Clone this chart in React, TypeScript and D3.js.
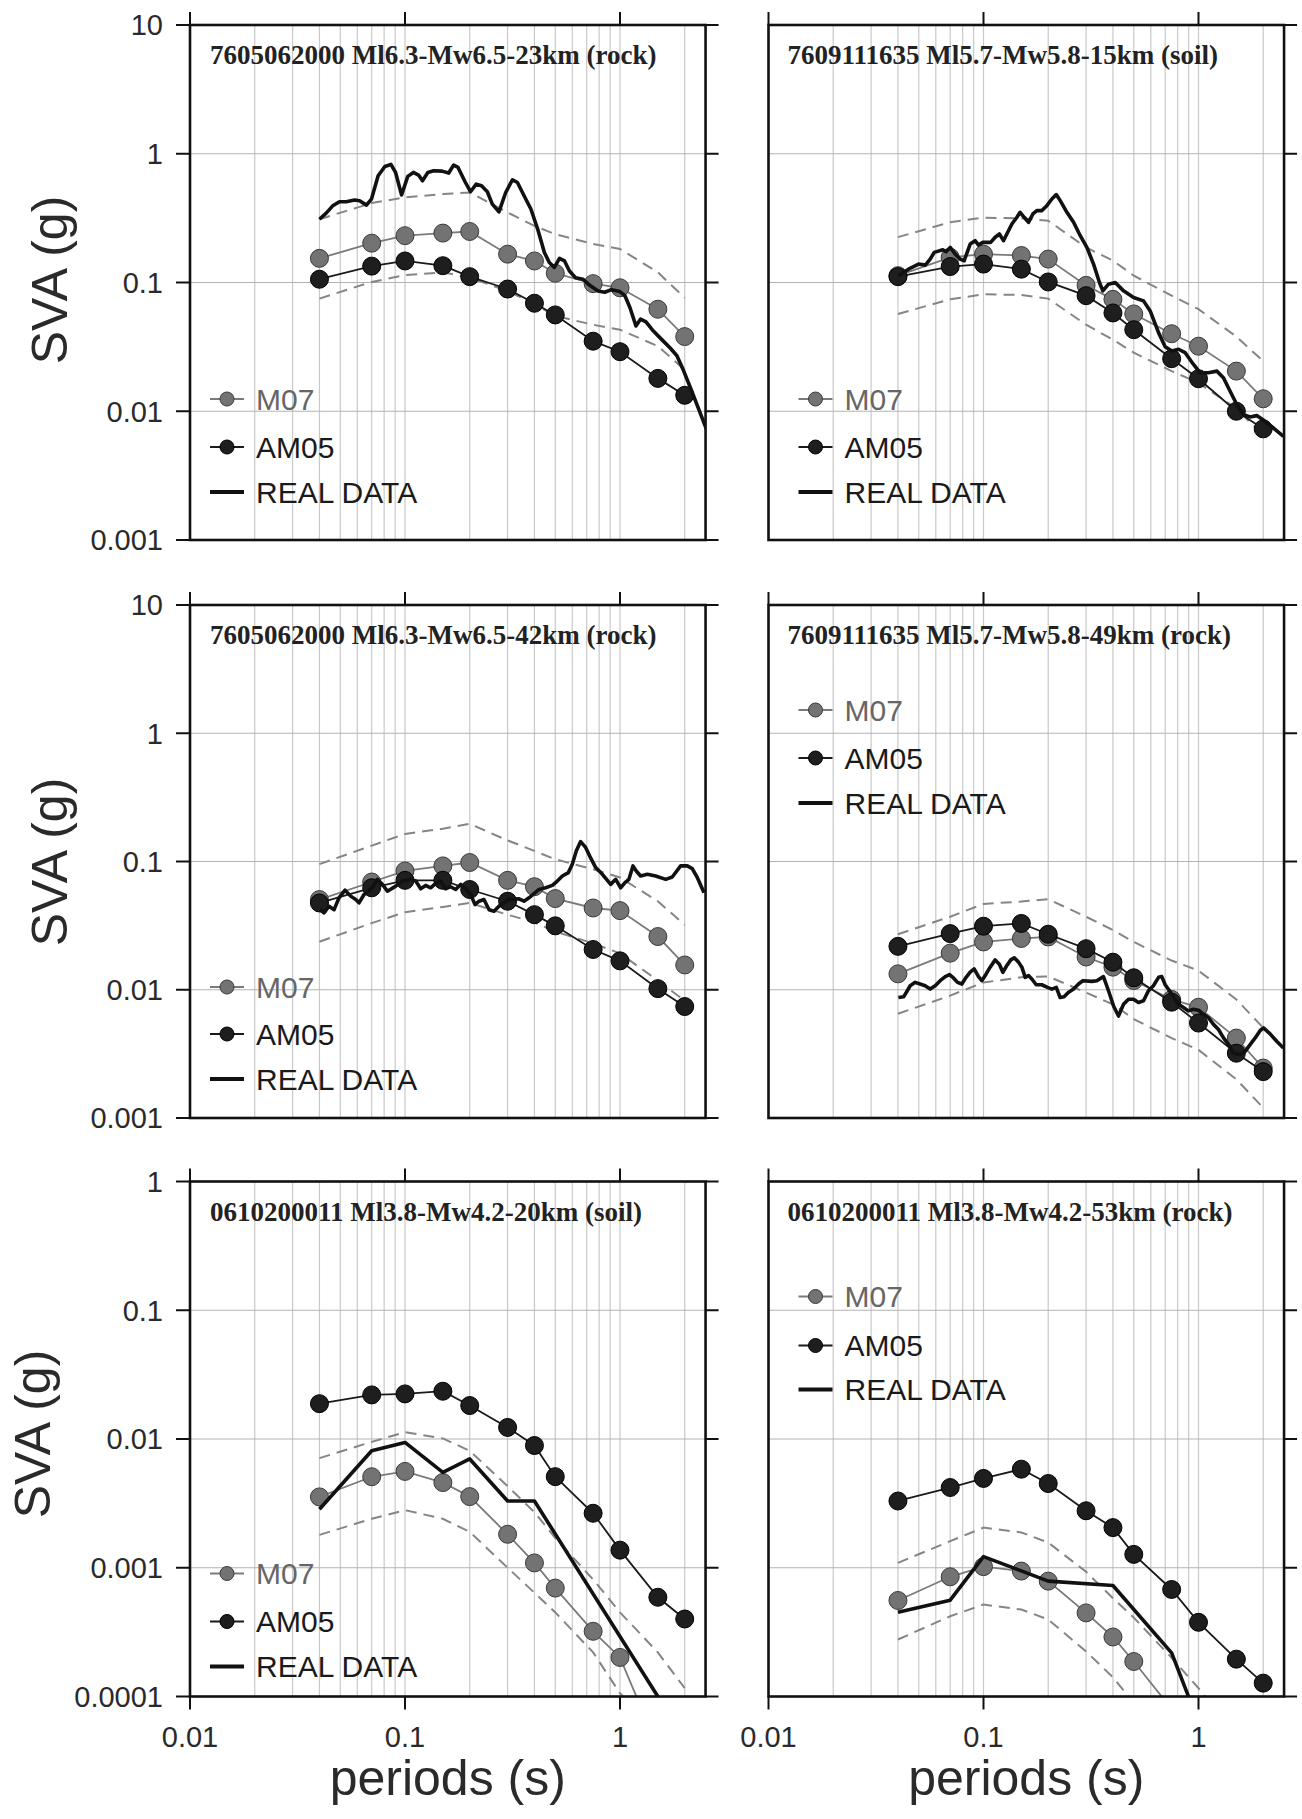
import React from 'react';
import * as d3 from 'd3';

// ---------------- DATA ----------------
const PERIODS = [0.04, 0.07, 0.1, 0.15, 0.2, 0.3, 0.4, 0.5, 0.75, 1, 1.5, 2];

const TITLES = [
  '7605062000 Ml6.3-Mw6.5-23km (rock)',
  '7609111635 Ml5.7-Mw5.8-15km (soil)',
  '7605062000 Ml6.3-Mw6.5-42km (rock)',
  '7609111635 Ml5.7-Mw5.8-49km (rock)',
  '0610200011 Ml3.8-Mw4.2-20km (soil)',
  '0610200011 Ml3.8-Mw4.2-53km (rock)',
];

const Y_TICKS_A = [10, 1, 0.1, 0.01, 0.001];
const Y_TICKS_B = [1, 0.1, 0.01, 0.001, 0.0001];
const Y_LABELS_A = ['10', '1', '0.1', '0.01', '0.001'];
const Y_LABELS_B = ['1', '0.1', '0.01', '0.001', '0.0001'];
const X_TICKS = [0.01, 0.1, 1];
const X_LABELS = ['0.01', '0.1', '1'];
const LEGEND_LABELS = ['M07', 'AM05', 'REAL DATA'];

// Panel 1
const M07_1 = [0.154, 0.202, 0.231, 0.242, 0.249, 0.166, 0.147, 0.118, 0.098, 0.091, 0.062, 0.038];
const AM05_1 = [0.106, 0.134, 0.147, 0.135, 0.111, 0.089, 0.069, 0.056, 0.035, 0.029, 0.018, 0.0133];
const UP_1 = [0.31, 0.414, 0.458, 0.486, 0.501, 0.35, 0.275, 0.237, 0.199, 0.182, 0.12, 0.076];
const LO_1 = [0.075, 0.101, 0.114, 0.12, 0.109, 0.086, 0.068, 0.055, 0.047, 0.043, 0.032, 0.021];
const REAL_1: [number, number][] = [
  [0.04, 0.31], [0.043, 0.346], [0.0461, 0.394], [0.0496, 0.424], [0.0533, 0.424], [0.0583, 0.437],
  [0.0615, 0.431], [0.0662, 0.399], [0.0698, 0.444], [0.075, 0.675], [0.0806, 0.797], [0.086, 0.826],
  [0.0904, 0.716], [0.0964, 0.478], [0.103, 0.667], [0.1094, 0.716], [0.1156, 0.683], [0.1206, 0.617],
  [0.1277, 0.716], [0.1358, 0.738], [0.1486, 0.733], [0.1597, 0.708], [0.1684, 0.817], [0.1765, 0.783],
  [0.191, 0.598], [0.2017, 0.507], [0.2144, 0.581], [0.227, 0.564], [0.2415, 0.507], [0.2547, 0.406],
  [0.2735, 0.354], [0.294, 0.5], [0.316, 0.628], [0.3334, 0.598], [0.358, 0.472], [0.385, 0.372],
  [0.414, 0.26], [0.445, 0.171], [0.469, 0.143], [0.495, 0.131], [0.523, 0.154], [0.552, 0.147],
  [0.582, 0.123], [0.621, 0.109], [0.673, 0.106], [0.723, 0.095], [0.791, 0.086], [0.849, 0.084],
  [0.912, 0.088], [0.998, 0.085], [1.054, 0.079], [1.112, 0.064], [1.186, 0.046], [1.247, 0.052],
  [1.321, 0.0495], [1.43, 0.042], [1.565, 0.036], [1.712, 0.031], [1.84, 0.027], [1.977, 0.0206],
  [2.124, 0.0153], [2.323, 0.0104], [2.52, 0.0073],
];

// Panel 2
const M07_2 = [0.113, 0.157, 0.166, 0.162, 0.152, 0.095, 0.074, 0.057, 0.04, 0.032, 0.0205, 0.0125];
const AM05_2 = [0.111, 0.133, 0.139, 0.127, 0.101, 0.079, 0.058, 0.043, 0.0256, 0.0179, 0.01, 0.0073];
const UP_2 = [0.225, 0.294, 0.319, 0.315, 0.302, 0.187, 0.148, 0.113, 0.079, 0.062, 0.038, 0.0245];
const LO_2 = [0.057, 0.074, 0.081, 0.08, 0.075, 0.047, 0.036, 0.0285, 0.0205, 0.0166, 0.0105, 0.0065];
const REAL_2: [number, number][] = [
  [0.0402, 0.1127], [0.0448, 0.127], [0.0499, 0.139], [0.0536, 0.1365], [0.0565, 0.152], [0.059, 0.1714],
  [0.0647, 0.1797], [0.067, 0.1734], [0.07, 0.1874], [0.0738, 0.1664], [0.0779, 0.152], [0.0813, 0.1476],
  [0.0867, 0.199], [0.0914, 0.2113], [0.0948, 0.1954], [0.0993, 0.205], [0.108, 0.205], [0.1133, 0.2245],
  [0.1186, 0.238], [0.1239, 0.2113], [0.1284, 0.238], [0.1355, 0.2847], [0.143, 0.321], [0.148, 0.351],
  [0.1546, 0.321], [0.162, 0.2935], [0.1697, 0.3405], [0.177, 0.3614], [0.1866, 0.3614], [0.197, 0.395],
  [0.208, 0.4453], [0.218, 0.482], [0.2275, 0.4325], [0.2443, 0.351], [0.2624, 0.2935], [0.2818, 0.231],
  [0.3026, 0.1874], [0.325, 0.139], [0.3463, 0.1], [0.359, 0.0861], [0.3814, 0.097], [0.41, 0.1],
  [0.448, 0.0861], [0.4988, 0.0764], [0.555, 0.072], [0.596, 0.0601], [0.652, 0.0408], [0.7, 0.0317],
  [0.752, 0.0294], [0.807, 0.0303], [0.867, 0.0285], [0.948, 0.0231], [1.018, 0.0199], [1.113, 0.0199],
  [1.217, 0.0205], [1.306, 0.0182], [1.403, 0.0143], [1.507, 0.01127], [1.618, 0.00942], [1.738, 0.00904],
  [1.866, 0.00925], [2.04, 0.00836], [2.233, 0.00741], [2.484, 0.00638],
];

// Panel 3
const M07_3 = [0.0505, 0.0692, 0.0844, 0.0924, 0.0982, 0.0713, 0.0636, 0.0514, 0.0434, 0.0414, 0.026, 0.0156];
const AM05_3 = [0.0475, 0.0624, 0.0713, 0.0713, 0.0605, 0.049, 0.0385, 0.0315, 0.0206, 0.0168, 0.0102, 0.0074];
const UP_3 = [0.0953, 0.133, 0.164, 0.18, 0.197, 0.146, 0.121, 0.104, 0.087, 0.075, 0.049, 0.032];
const LO_3 = [0.0237, 0.0331, 0.0402, 0.0442, 0.0475, 0.0385, 0.0335, 0.0284, 0.023, 0.0192, 0.0118, 0.0082];
const REAL_3: [number, number][] = [
  [0.0402, 0.0421], [0.042, 0.0397], [0.0443, 0.0448], [0.0468, 0.0421], [0.0493, 0.0521], [0.0526, 0.0598],
  [0.0559, 0.0537], [0.059, 0.0505], [0.0611, 0.0476], [0.0645, 0.0553], [0.0705, 0.0624], [0.0743, 0.0726],
  [0.0785, 0.0663], [0.0828, 0.0587], [0.0906, 0.0643], [0.0973, 0.0704], [0.1062, 0.0726], [0.1122, 0.0704],
  [0.1183, 0.0613], [0.1248, 0.0651], [0.1316, 0.0624], [0.139, 0.0675], [0.1465, 0.0704], [0.1545, 0.0613],
  [0.163, 0.0636], [0.172, 0.0605], [0.1815, 0.0663], [0.1914, 0.0613], [0.202, 0.0553], [0.2117, 0.0461],
  [0.221, 0.049], [0.233, 0.0505], [0.246, 0.0421], [0.2595, 0.0409], [0.2735, 0.0448], [0.2886, 0.0476],
  [0.3046, 0.0505], [0.339, 0.0512], [0.3576, 0.049], [0.3774, 0.0521], [0.42, 0.0605], [0.451, 0.0624],
  [0.4845, 0.0651], [0.511, 0.0704], [0.5395, 0.0771], [0.575, 0.0819], [0.6, 0.0953], [0.6266, 0.1213],
  [0.656, 0.143], [0.692, 0.1288], [0.722, 0.1107], [0.771, 0.0897], [0.828, 0.0795], [0.905, 0.0663],
  [0.955, 0.0726], [1.007, 0.0624], [1.055, 0.0684], [1.1, 0.0726], [1.149, 0.0924], [1.19, 0.0844],
  [1.247, 0.0771], [1.34, 0.0795], [1.465, 0.0771], [1.632, 0.0726], [1.75, 0.0757], [1.914, 0.0924],
  [2.056, 0.0924], [2.168, 0.0881], [2.29, 0.0748], [2.46, 0.057],
];

// Panel 4
const M07_4 = [0.0133, 0.0193, 0.0236, 0.0251, 0.0258, 0.018, 0.015, 0.0118, 0.0084, 0.0073, 0.0042, 0.00245];
const AM05_4 = [0.0218, 0.0274, 0.0313, 0.0329, 0.0271, 0.0209, 0.0164, 0.0124, 0.008, 0.0055, 0.0032, 0.0023];
const UP_4 = [0.0271, 0.0371, 0.0467, 0.0487, 0.0508, 0.0371, 0.0292, 0.0236, 0.0169, 0.0141, 0.0084, 0.00505];
const LO_4 = [0.0065, 0.009, 0.0114, 0.0125, 0.0127, 0.0095, 0.0077, 0.0059, 0.0042, 0.0034, 0.002, 0.0012];
const REAL_4: [number, number][] = [
  [0.0402, 0.0087], [0.0425, 0.00881], [0.044, 0.0097], [0.0456, 0.01075], [0.0481, 0.01142], [0.0507, 0.01108],
  [0.0535, 0.01075], [0.0565, 0.01012], [0.0596, 0.01075], [0.0629, 0.01177], [0.0664, 0.01266], [0.0695, 0.01312],
  [0.0725, 0.01236], [0.0757, 0.01142], [0.0793, 0.01108], [0.083, 0.0125], [0.0867, 0.0137], [0.0905, 0.01455],
  [0.0948, 0.01266], [0.0982, 0.01177], [0.1029, 0.01328], [0.1074, 0.015], [0.1133, 0.0171], [0.1187, 0.01574],
  [0.123, 0.01368], [0.1284, 0.01545], [0.134, 0.0171], [0.139, 0.01776], [0.1455, 0.01642], [0.1508, 0.015],
  [0.1563, 0.0125], [0.1619, 0.01289], [0.1678, 0.01213], [0.1758, 0.01094], [0.1866, 0.01094], [0.1984, 0.01043],
  [0.208, 0.01012], [0.218, 0.01043], [0.2273, 0.0087], [0.237, 0.00881], [0.248, 0.00953], [0.2624, 0.01012],
  [0.2767, 0.01108], [0.29, 0.01177], [0.319, 0.01162], [0.3366, 0.01177], [0.3614, 0.01266], [0.3814, 0.00982],
  [0.4025, 0.00748], [0.4245, 0.00624], [0.448, 0.00771], [0.4725, 0.00844], [0.4988, 0.00844], [0.526, 0.00795],
  [0.555, 0.0082], [0.585, 0.00982], [0.617, 0.01075], [0.652, 0.0125], [0.675, 0.01266], [0.7, 0.01094],
  [0.733, 0.00982], [0.765, 0.00881], [0.807, 0.00771], [0.851, 0.00726], [0.898, 0.00684], [0.948, 0.00704],
  [1.0, 0.00692], [1.055, 0.00643], [1.113, 0.00605], [1.174, 0.00537], [1.239, 0.0049], [1.307, 0.00421],
  [1.38, 0.00373], [1.455, 0.00321], [1.563, 0.00311], [1.648, 0.00331], [1.738, 0.00373], [1.835, 0.00421],
  [1.936, 0.00481], [2.006, 0.00505], [2.153, 0.00453], [2.31, 0.00397], [2.484, 0.00351],
];

// Panel 5
const M07_5 = [0.00355, 0.00509, 0.0056, 0.00459, 0.00357, 0.00182, 0.00109, 0.000695, 0.000321, 0.000201, 0.00004, 0.00002];
const AM05_5 = [0.0188, 0.022, 0.0224, 0.0235, 0.0182, 0.0123, 0.0089, 0.0051, 0.00265, 0.00137, 0.00059, 0.0004];
const UP_5 = [0.0071, 0.0095, 0.0113, 0.0101, 0.0081, 0.0043, 0.0027, 0.0017, 0.00081, 0.00045, 0.00022, 0.000116];
const LO_5 = [0.0018, 0.0024, 0.0028, 0.0024, 0.0019, 0.001, 0.00064, 0.00045, 0.00022, 0.000106, 0.00005, 0.000025];
const REAL_5: [number, number][] = [
  [0.04, 0.00285], [0.07, 0.0081], [0.1, 0.0094], [0.15, 0.0055], [0.2, 0.007], [0.3, 0.0033],
  [0.4, 0.0033], [1.5, 0.0001], [2, 0.00005],
];

// Panel 6
const M07_6 = [0.000557, 0.000851, 0.00102, 0.000942, 0.000787, 0.000446, 0.00029, 0.000187, 0.00008, 0.00004, 0.00002, 0.00001];
const AM05_6 = [0.0033, 0.0042, 0.00494, 0.00583, 0.00451, 0.00277, 0.00205, 0.00127, 0.000678, 0.000377, 0.000195, 0.000127];
const UP_6 = [0.00109, 0.00161, 0.00205, 0.00188, 0.00157, 0.00093, 0.00058, 0.00041, 0.0002, 0.000116, 0.00005, 0.00003];
const LO_6 = [0.000277, 0.00042, 0.000518, 0.000474, 0.000396, 0.000224, 0.000141, 0.000089, 0.00004, 0.00002, 0.00001, 0.000005];
const REAL_6: [number, number][] = [
  [0.04, 0.000451], [0.07, 0.00056], [0.1, 0.00122], [0.2, 0.000787], [0.4, 0.000728], [0.75, 0.000218],
  [1, 0.000063],
];

// ---------------- LAYOUT ----------------
const COL_X = [190, 768.5];
const DECADE_W = 215;
const X_DOMAIN: [number, number] = [0.01, 2.5];
const PLOT_W = Math.log10(X_DOMAIN[1] / X_DOMAIN[0]) * DECADE_W;
const ROW_TOP = [25, 605, 1181.5];
const ROW_H = [515, 513, 515];
const ROW_CENTER = [280, 862, 1434];
const Y_TITLE_X = [67, 67, 50];
const LEGEND_Y = [
  [374, 422, 467],
  [374, 422, 467],
  [382, 429, 474],
  [105, 153, 198],
  [392, 440, 485],
  [115, 164, 208],
];

const SANS = "'Liberation Sans', Arial, Helvetica, sans-serif";
const SERIF = "'Liberation Serif', 'Times New Roman', serif";
const M07_FILL = '#737373';
const M07_LINE = '#7a7a7a';
const AM05_FILL = '#1e1e1e';
const DASH_COLOR = '#858585';
const GRID_V = '#c9c9c9';
const GRID_H = '#b3b3b3';

type PanelData = {
  title: string;
  m07: number[];
  am05: number[];
  up: number[];
  lo: number[];
  real: [number, number][];
};

const PANELS: PanelData[] = [
  { title: TITLES[0], m07: M07_1, am05: AM05_1, up: UP_1, lo: LO_1, real: REAL_1 },
  { title: TITLES[1], m07: M07_2, am05: AM05_2, up: UP_2, lo: LO_2, real: REAL_2 },
  { title: TITLES[2], m07: M07_3, am05: AM05_3, up: UP_3, lo: LO_3, real: REAL_3 },
  { title: TITLES[3], m07: M07_4, am05: AM05_4, up: UP_4, lo: LO_4, real: REAL_4 },
  { title: TITLES[4], m07: M07_5, am05: AM05_5, up: UP_5, lo: LO_5, real: REAL_5 },
  { title: TITLES[5], m07: M07_6, am05: AM05_6, up: UP_6, lo: LO_6, real: REAL_6 },
];

function minorGrid(): number[] {
  const out: number[] = [];
  for (let e = -2; e <= 0; e++) {
    for (let k = 1; k <= 9; k++) {
      const v = +(k * Math.pow(10, e)).toPrecision(3);
      if (v > X_DOMAIN[0] && v < X_DOMAIN[1]) out.push(v);
    }
  }
  return out;
}

function Panel({ p, idx }: { p: PanelData; idx: number }) {
  const col = idx % 2;
  const row = Math.floor(idx / 2);
  const x0 = COL_X[col];
  const top = ROW_TOP[row];
  const h = ROW_H[row];
  const yTicks = row === 2 ? Y_TICKS_B : Y_TICKS_A;
  const yLabels = row === 2 ? Y_LABELS_B : Y_LABELS_A;
  const yDomain: [number, number] = [yTicks[yTicks.length - 1], yTicks[0]];

  const x = d3.scaleLog().domain(X_DOMAIN).range([x0, x0 + PLOT_W]);
  const y = d3.scaleLog().domain(yDomain).range([top + h, top]);
  const line = d3
    .line<[number, number]>()
    .x((d) => x(d[0]))
    .y((d) => y(d[1]));
  const zip = (vals: number[]) => PERIODS.map((t, i) => [t, vals[i]] as [number, number]);

  const clipId = `clip-${idx}`;
  const tick = 13;
  const legX = x0 + (col === 0 ? 20 : 30);
  const legY = LEGEND_Y[idx].map((v) => top + v);

  return (
    <g>
      <defs>
        <clipPath id={clipId}>
          <rect x={x0} y={top} width={PLOT_W} height={h} />
        </clipPath>
      </defs>
      {/* grid */}
      {minorGrid().map((v) => (
        <line key={'gv' + v} x1={x(v)} x2={x(v)} y1={top} y2={top + h} stroke={GRID_V} strokeWidth={1.2} />
      ))}
      {yTicks.map((v) => (
        <line key={'gh' + v} x1={x0} x2={x0 + PLOT_W} y1={y(v)} y2={y(v)} stroke={GRID_H} strokeWidth={1.2} />
      ))}

      {/* data */}
      <g clipPath={`url(#${clipId})`}>
        <path d={line(zip(p.up)) || ''} fill="none" stroke={DASH_COLOR} strokeWidth={2} strokeDasharray="11 7" />
        <path d={line(zip(p.lo)) || ''} fill="none" stroke={DASH_COLOR} strokeWidth={2} strokeDasharray="11 7" />
        <path d={line(zip(p.m07)) || ''} fill="none" stroke={M07_LINE} strokeWidth={1.8} />
        {zip(p.m07).map((d, i) => (
          <circle key={'m' + i} cx={x(d[0])} cy={y(d[1])} r={9} fill={M07_FILL} stroke="#3a3a3a" strokeWidth={1} />
        ))}
        <path d={line(zip(p.am05)) || ''} fill="none" stroke="#1a1a1a" strokeWidth={1.8} />
        {zip(p.am05).map((d, i) => (
          <circle key={'a' + i} cx={x(d[0])} cy={y(d[1])} r={9} fill={AM05_FILL} stroke="#000" strokeWidth={1} />
        ))}
        <path d={line(p.real) || ''} fill="none" stroke="#111" strokeWidth={3.6} strokeLinejoin="round" />
      </g>

      {/* frame */}
      <rect x={x0} y={top} width={PLOT_W} height={h} fill="none" stroke="#111" strokeWidth={2.6} />
      {X_TICKS.map((v) => (
        <line key={'tt' + v} x1={x(v)} x2={x(v)} y1={top} y2={top - tick} stroke="#111" strokeWidth={2} />
      ))}
      {yTicks.map((v) => (
        <line key={'rt' + v} x1={x0 + PLOT_W} x2={x0 + PLOT_W + tick} y1={y(v)} y2={y(v)} stroke="#111" strokeWidth={2} />
      ))}
      {col === 0 &&
        yTicks.map((v, i) => (
          <g key={'lt' + v}>
            <line x1={x0} x2={x0 - tick - 1} y1={y(v)} y2={y(v)} stroke="#111" strokeWidth={2} />
            <text x={x0 - 27} y={y(v)} dy="0.36em" textAnchor="end" fontFamily={SANS} fontSize={29} fill="#2a2a2a">
              {yLabels[i]}
            </text>
          </g>
        ))}
      {row === 2 &&
        X_TICKS.map((v, i) => (
          <g key={'bt' + v}>
            <line x1={x(v)} x2={x(v)} y1={top + h} y2={top + h + tick} stroke="#111" strokeWidth={2} />
            <text x={x(v)} y={top + h + 50} textAnchor="middle" fontFamily={SANS} fontSize={29} fill="#2a2a2a">
              {X_LABELS[i]}
            </text>
          </g>
        ))}

      {/* title */}
      <text x={x0 + (col === 0 ? 20 : 19)} y={top + 39} fontFamily={SERIF} fontWeight="bold" fontSize={27} fill="#222">
        {p.title}
      </text>

      {/* legend */}
      <line x1={legX} x2={legX + 34} y1={legY[0]} y2={legY[0]} stroke={M07_LINE} strokeWidth={1.8} />
      <circle cx={legX + 17} cy={legY[0]} r={7} fill={M07_FILL} stroke="#3a3a3a" strokeWidth={1} />
      <text x={legX + 46} y={legY[0]} dy="0.36em" fontFamily={SANS} fontSize={30} fill="#666">
        {LEGEND_LABELS[0]}
      </text>
      <line x1={legX} x2={legX + 34} y1={legY[1]} y2={legY[1]} stroke="#1a1a1a" strokeWidth={1.8} />
      <circle cx={legX + 17} cy={legY[1]} r={7} fill={AM05_FILL} stroke="#000" strokeWidth={1} />
      <text x={legX + 46} y={legY[1]} dy="0.36em" fontFamily={SANS} fontSize={30} fill="#1a1a1a">
        {LEGEND_LABELS[1]}
      </text>
      <line x1={legX} x2={legX + 34} y1={legY[2]} y2={legY[2]} stroke="#111" strokeWidth={4} />
      <text x={legX + 46} y={legY[2]} dy="0.36em" fontFamily={SANS} fontSize={30} fill="#1a1a1a">
        {LEGEND_LABELS[2]}
      </text>

      {/* axis titles */}
      {col === 0 && (
        <text
          transform={`translate(${Y_TITLE_X[row]},${ROW_CENTER[row]}) rotate(-90)`}
          textAnchor="middle"
          fontFamily={SANS}
          fontSize={50}
          fill="#2a2a2a"
        >
          SVA (g)
        </text>
      )}
      {row === 2 && (
        <text x={x0 + PLOT_W / 2} y={1795} textAnchor="middle" fontFamily={SANS} fontSize={50} fill="#2a2a2a">
          periods (s)
        </text>
      )}
    </g>
  );
}

export default function App() {
  return (
    <svg
      width={1302}
      height={1819}
      viewBox="0 0 1302 1819"
      style={{ position: 'absolute', left: 0, top: 0, background: '#fff' }}
    >
      <rect x={0} y={0} width={1302} height={1819} fill="#fff" />
      {PANELS.map((p, i) => (
        <Panel key={i} p={p} idx={i} />
      ))}
    </svg>
  );
}
